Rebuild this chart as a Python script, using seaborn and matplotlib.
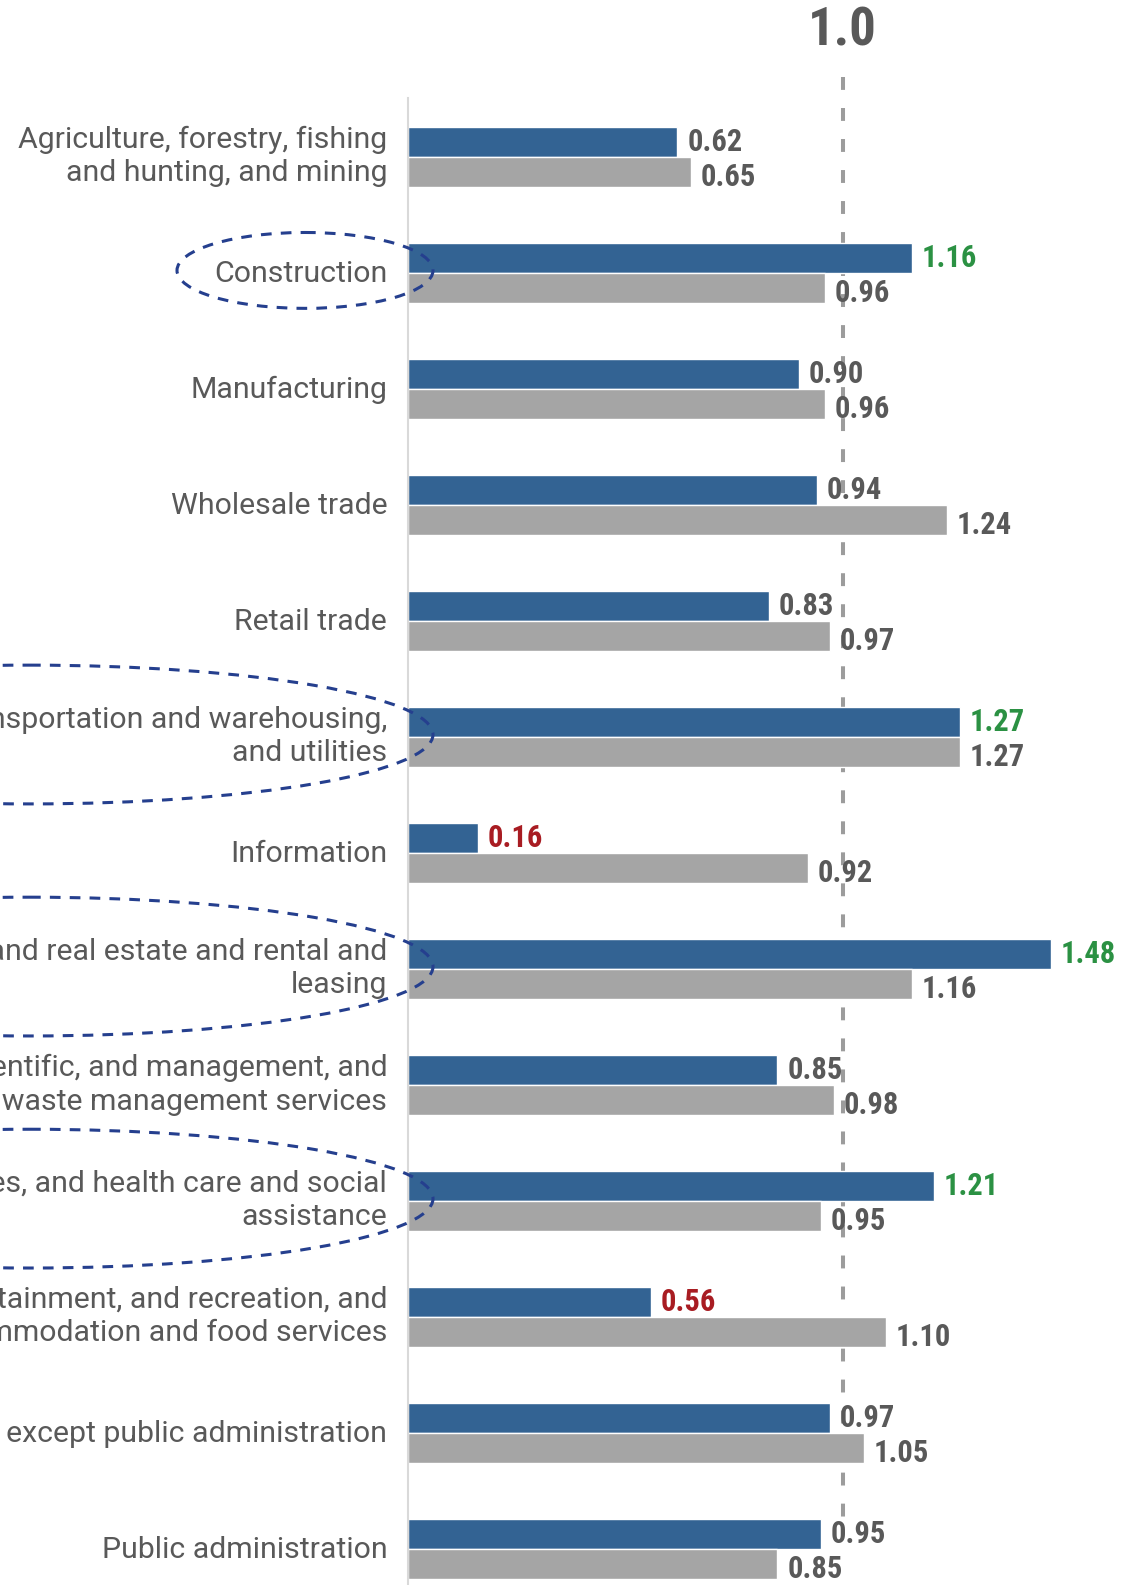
import matplotlib
matplotlib.use("Agg")
import matplotlib.pyplot as plt
import matplotlib.transforms as mtransforms
from matplotlib.patches import Ellipse
import pandas as pd
import seaborn as sns

# Industry categories (top to bottom)
categories = [
    "Agriculture, forestry, fishing\nand hunting, and mining",
    "Construction",
    "Manufacturing",
    "Wholesale trade",
    "Retail trade",
    "Transportation and warehousing,\nand utilities",
    "Information",
    "Finance and insurance, and real estate and rental and\nleasing",
    "Professional, scientific, and management, and\nadministrative and waste management services",
    "Educational services, and health care and social\nassistance",
    "Arts, entertainment, and recreation, and\naccommodation and food services",
    "Other services, except public administration",
    "Public administration",
]
series_names = ["Local", "Comparison"]
local_values = [0.62, 1.16, 0.90, 0.94, 0.83, 1.27, 0.16, 1.48, 0.85, 1.21, 0.56, 0.97, 0.95]
comparison_values = [0.65, 0.96, 0.96, 1.24, 0.97, 1.27, 0.92, 1.16, 0.98, 0.95, 1.10, 1.05, 0.85]
reference_value = 1.0
highlighted = [
    "Construction",
    "Transportation and warehousing,\nand utilities",
    "Finance and insurance, and real estate and rental and\nleasing",
    "Educational services, and health care and social\nassistance",
]

BLUE = "#336393"
GRAY = "#a5a5a5"
TEXT = "#595959"
GREEN = "#2b9143"
RED = "#a81c22"
NAVY = "#253f8e"

df = pd.DataFrame({
    "category": categories * 2,
    "value": local_values + comparison_values,
    "series": [series_names[0]] * len(categories) + [series_names[1]] * len(categories),
})

sns.set_style("white")
plt.rcParams["font.family"] = ["Roboto", "DejaVu Sans"]
VALUE_FONT = ["Liberation Sans Narrow", "Roboto Condensed", "DejaVu Sans"]

W, H, DPI = 1126, 1585, 100
fig = plt.figure(figsize=(W / DPI, H / DPI), dpi=DPI)
ax = fig.add_axes([408 / W, 0.0, 1 - 408 / W, 1 - 98 / H])

sns.barplot(
    data=df, x="value", y="category", hue="series", orient="h",
    order=categories, hue_order=series_names,
    palette=[BLUE, GRAY], saturation=1, width=0.52, dodge=True,
    legend=False, ax=ax,
)

ax.set_xlim(0, 1.652)
ax.set_ylim(12.31, -0.506)
ax.set_xlabel("")
ax.set_ylabel("")
ax.set_xticks([])
ax.tick_params(axis="y", length=0, pad=15, labelsize=21.8, labelcolor=TEXT)
for lab in ax.get_yticklabels():
    lab.set_linespacing(1.25)
    lift = 6 if "\n" in lab.get_text() else 2
    lab.set_transform(lab.get_transform()
                      + mtransforms.ScaledTranslation(0, lift / DPI, fig.dpi_scale_trans))
for side in ("top", "right", "bottom"):
    ax.spines[side].set_visible(False)
ax.spines["left"].set_color("#d9d9d9")
ax.spines["left"].set_linewidth(1.5)

# Reference line at 1.0, running above the plot area, behind the bars
ax.plot([reference_value, reference_value], [-0.69, 11.74], color="#9c9c9c",
        lw=2.9, linestyle=(0, (3.2, 4.5)), clip_on=False, zorder=0.8,
        solid_capstyle="butt", dash_capstyle="butt")
top_tr = mtransforms.blended_transform_factory(ax.transData, fig.transFigure)
ax.text(reference_value, 1 - 31 / H, "1.0", transform=top_tr, ha="center",
        va="center", fontsize=38, fontweight="bold", color=TEXT,
        family=VALUE_FONT)

# Value labels at the end of each bar
all_values = [local_values, comparison_values]
for s, container in enumerate(ax.containers):
    for i, bar in enumerate(container):
        v = all_values[s][i]
        color = TEXT
        if s == 0 and v >= 1.1:
            color = GREEN
        elif s == 0 and v <= 0.6:
            color = RED
        ax.annotate(f"{v:.2f}", xy=(bar.get_width(), bar.get_y() + bar.get_height() / 2),
                    xytext=(7, 0 if s == 0 else -3.5), textcoords="offset points",
                    ha="left", va="center",
                    fontsize=22, fontweight="bold", color=color, family=VALUE_FONT,
                    annotation_clip=False)

# Dashed ovals around the highlighted industries
oval_tr = mtransforms.blended_transform_factory(fig.transFigure, ax.transData)
for name in highlighted:
    i = categories.index(name)
    if "\n" in name:
        cx, w, h = 30 / W, 806 / W, 1.196
    else:
        cx, w, h = 305 / W, 256 / W, 0.654
    e = Ellipse((cx, i - 0.02), w, h, transform=oval_tr, fill=False, edgecolor=NAVY,
                lw=2.2, linestyle=(0, (3.5, 3.0)), clip_on=False, zorder=5)
    fig.add_artist(e)

fig.savefig("out.png", dpi=DPI, facecolor="white")
